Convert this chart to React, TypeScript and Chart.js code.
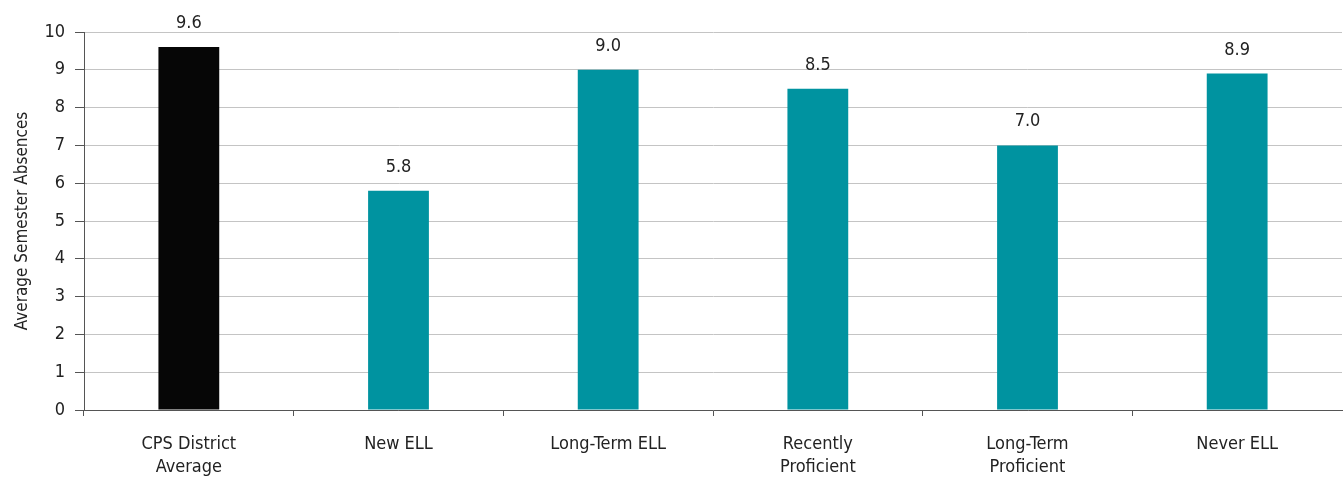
import React, { useEffect, useRef } from "react";
import { Chart, registerables } from "chart.js";

Chart.register(...registerables);

const categories: (string | string[])[] = [
  ["CPS District", "Average"],
  "New ELL",
  "Long-Term ELL",
  ["Recently", "Proficient"],
  ["Long-Term", "Proficient"],
  "Never ELL",
];
const absences = [9.6, 5.8, 9.0, 8.5, 7.0, 8.9];
const barColors = ["#060606", "#0093a0", "#0093a0", "#0093a0", "#0093a0", "#0093a0"];
const yTicks = [0, 1, 2, 3, 4, 5, 6, 7, 8, 9, 10];

const FONT = "'DejaVu Sans Condensed', 'Liberation Sans Narrow', sans-serif";

const valueLabels = {
  id: "valueLabels",
  afterDatasetsDraw(chart: any) {
    const ctx = chart.ctx;
    const meta = chart.getDatasetMeta(0);
    ctx.save();
    ctx.font = `18px ${FONT}`;
    ctx.fillStyle = "#222";
    ctx.textAlign = "center";
    ctx.textBaseline = "alphabetic";
    meta.data.forEach((bar: any, i: number) => {
      ctx.fillText(absences[i].toFixed(1), bar.x, bar.y - 19);
    });
    ctx.restore();
  },
};

export default function App() {
  const ref = useRef<HTMLCanvasElement | null>(null);
  useEffect(() => {
    if (!ref.current) return;
    const chart = new Chart(ref.current, {
      type: "bar",
      data: {
        labels: categories,
        datasets: [
          {
            data: absences,
            backgroundColor: barColors,
            barPercentage: 0.58,
            categoryPercentage: 0.5,
          },
        ],
      },
      options: {
        responsive: false,
        animation: false,
        layout: { padding: { top: 32, right: 1, bottom: 0, left: 0 } },
        plugins: {
          legend: { display: false },
          tooltip: { enabled: false },
        },
        scales: {
          x: {
            offset: true,
            grid: {
              offset: true,
              drawOnChartArea: false,
              drawTicks: true,
              tickLength: 6,
              tickColor: (c: any) => (c.tick ? "#555" : "rgba(0,0,0,0)"),
            },
            border: { color: "#555", width: 1 },
            ticks: {
              color: "#222",
              padding: 17,
              maxRotation: 0,
              autoSkip: false,
              font: { family: FONT, size: 18, lineHeight: 1.28 },
            },
            afterFit(scale: any) {
              scale.height = 68;
            },
          },
          y: {
            min: 0,
            max: 10,
            afterBuildTicks(scale: any) {
              scale.ticks = yTicks.map((v) => ({ value: v }));
            },
            grid: {
              color: "#c4c4c4",
              lineWidth: 1,
              tickLength: 9,
              tickColor: "#555",
            },
            border: { color: "#555", width: 1 },
            ticks: {
              color: "#222",
              padding: 10,
              font: { family: FONT, size: 18 },
            },
            title: {
              display: true,
              text: "Average Semester Absences",
              color: "#222",
              font: { family: FONT, size: 17, lineHeight: 1.2 },
              padding: { top: 12, bottom: 0 },
            },
            afterFit(scale: any) {
              scale.width = 84;
            },
          },
        },
      },
      plugins: [valueLabels],
    });
    return () => chart.destroy();
  }, []);
  return (
    <canvas
      ref={ref}
      width={1343}
      height={478}
      style={{ position: "absolute", left: 0, top: 0, display: "block", background: "#fff" }}
    />
  );
}
